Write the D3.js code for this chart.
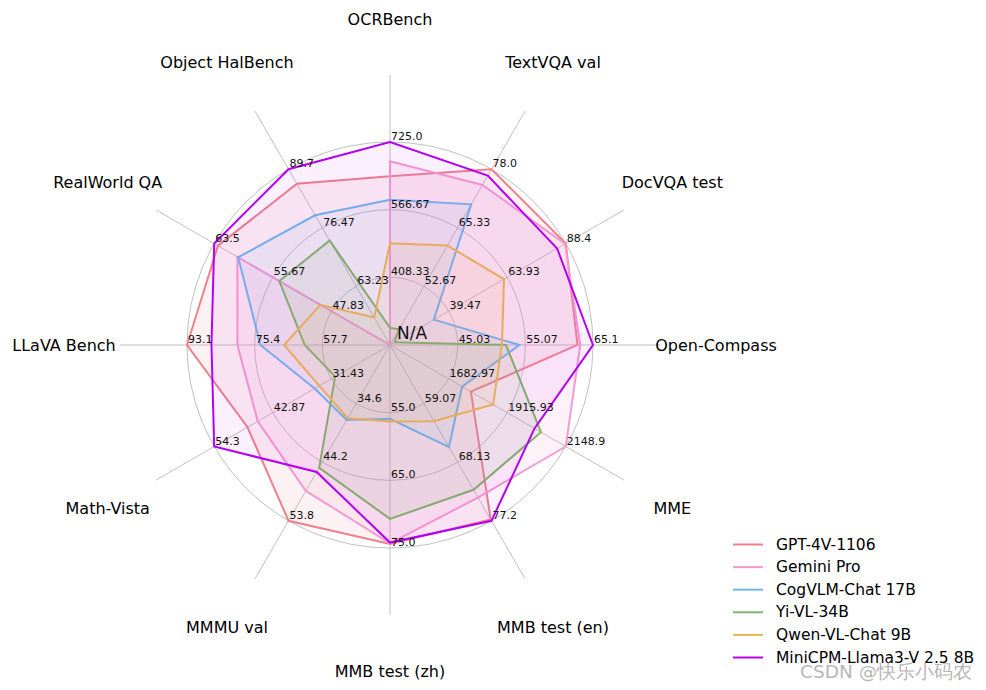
<!DOCTYPE html>
<html>
<head>
<meta charset="utf-8">
<script src="https://cdn.jsdelivr.net/npm/d3@7"></script>
<style>
  body { margin: 0; background: #fff; }
  text { font-family: "DejaVu Sans", sans-serif; }
</style>
</head>
<body>
<div id="chart"></div>
<script>
const width = 986;
const height = 690;

// Centre and radius of the radar
const cx = 390;
const cy = 345;
const radius = 203;

// Axes, counter-clockwise from the right
const categories = ['Open-Compass', 'DocVQA test', 'TextVQA val', 'OCRBench', 'Object HalBench', 'RealWorld QA',
    'LLaVA Bench', 'Math-Vista', 'MMMU val', 'MMB test (zh)', 'MMB test (en)', 'MME'];
const axisMin = [35, 15, 40, 250, 50, 40, 40, 20, 25, 45, 50, 1450];
const axisMax = [65.1, 88.4, 78.0, 725.0, 89.7, 63.5, 93.1, 54.3, 53.8, 75.0, 77.2, 2148.9];

// Ring labels (1/3, 2/3, outer)
const tickLabels = [
    ['45.03', '55.07', '65.1'],
    ['39.47', '63.93', '88.4'],
    ['52.67', '65.33', '78.0'],
    ['408.33', '566.67', '725.0'],
    ['63.23', '76.47', '89.7'],
    ['47.83', '55.67', '63.5'],
    ['57.7', '75.4', '93.1'],
    ['31.43', '42.87', '54.3'],
    ['34.6', '44.2', '53.8'],
    ['55.0', '65.0', '75.0'],
    ['59.07', '68.13', '77.2'],
    ['1682.97', '1915.93', '2148.9']
];

// Models
const models = ['GPT-4V-1106', 'Gemini Pro', 'CogVLM-Chat 17B', 'Yi-VL-34B', 'Qwen-VL-Chat 9B', 'MiniCPM-Llama3-V 2.5 8B'];
const gpt4v = [62.8, 88.4, 78.0, 645, 86.4, 63.0, 93.1, 47.8, 53.8, 74.4, 77.0, 1771.5];
const geminiPro = [63.2, 88.1, 74.6, 680, null, 60.4, 79.9, 45.8, 48.9, 74.3, 73.6, 2148.9];
const cogvlm = [54.2, 33.3, 70.4, 590, 79.3, 60.3, 73.9, 34.7, 37.3, 55.9, 65.8, 1736.6];
const yivl = [52.2, 16.9, 43.4, 290, 73.6, 54.8, 62.3, 30.7, 45.1, 70.7, 72.4, 2050.2];
const qwenvl = [51.6, 62.6, 61.5, 488, 56.2, 49.3, 67.7, 33.8, 37.0, 56.3, 61.8, 1860.0];
const minicpm = [65.1, 84.8, 76.6, 725, 89.7, 63.5, 86.7, 54.3, 45.8, 74.2, 77.2, 2024.6];
const seriesValues = [gpt4v, geminiPro, cogvlm, yivl, qwenvl, minicpm];

const colors = d3.scaleOrdinal()
    .domain(models)
    .range(['#f0808c', '#f59ad2', '#72b6ee', '#80b46a', '#e9b654', '#b400f0']);
const fillAlpha = [0.1, 0.13, 0.1, 0.1, 0.1, 0.06];

// One radial scale per axis
const scales = categories.map((c, i) => d3.scaleLinear().domain([axisMin[i], axisMax[i]]).range([0, radius]));
const angle = d3.scaleLinear().domain([0, categories.length]).range([0, 2 * Math.PI]);
const px = (i, r) => cx + r * Math.cos(angle(i));
const py = (i, r) => cy - r * Math.sin(angle(i));

const svg = d3.select('#chart')
    .append('svg')
    .attr('width', width)
    .attr('height', height);

// Grid rings
svg.selectAll('.ring')
    .data([1, 2, 3])
    .enter().append('circle')
    .attr('cx', cx)
    .attr('cy', cy)
    .attr('r', k => radius * k / 3)
    .attr('fill', 'none')
    .attr('stroke', '#b0b0b0')
    .attr('stroke-width', 0.8);

// Spokes
svg.selectAll('.spoke')
    .data(categories)
    .enter().append('line')
    .attr('x1', cx)
    .attr('y1', cy)
    .attr('x2', (d, i) => px(i, 270))
    .attr('y2', (d, i) => py(i, 270))
    .attr('stroke', '#b0b0b0')
    .attr('stroke-width', 0.8);

// Polygons
const line = d3.line()
    .x(d => px(d.i, d.r))
    .y(d => py(d.i, d.r))
    .curve(d3.curveLinearClosed);

const polys = svg.selectAll('.model')
    .data(models)
    .enter().append('g')
    .attr('class', 'model');

polys.append('path')
    .attr('d', (m, k) => line(seriesValues[k].map((v, i) => ({ i: i, r: v == null ? 0 : scales[i](v) }))))
    .attr('fill', m => colors(m))
    .attr('fill-opacity', (m, k) => fillAlpha[k])
    .attr('stroke', m => colors(m))
    .attr('stroke-width', 2)
    .attr('stroke-linejoin', 'miter');

// Tick labels on each axis
categories.forEach((c, i) => {
    svg.selectAll('.tick' + i)
        .data(tickLabels[i])
        .enter().append('text')
        .attr('x', (d, k) => px(i, radius * (k + 1) / 3) + 1)
        .attr('y', (d, k) => py(i, radius * (k + 1) / 3) - 2)
        .attr('font-size', 11)
        .attr('fill', '#111')
        .text(d => d);
});

// Missing value marker
seriesValues.forEach(vals => {
    vals.forEach((v, i) => {
        if (v == null) {
            svg.append('text')
                .attr('x', cx + 7)
                .attr('y', cy - 6)
                .attr('font-size', 17)
                .attr('fill', '#111')
                .text('N/A');
        }
    });
});

// Axis names
svg.selectAll('.axis-label')
    .data(categories)
    .enter().append('text')
    .attr('x', (d, i) => px(i, 326))
    .attr('y', (d, i) => py(i, 326))
    .attr('text-anchor', 'middle')
    .attr('dominant-baseline', 'central')
    .attr('font-size', 16)
    .attr('fill', '#000')
    .text(d => d);

// Legend
const legend = svg.selectAll('.legend')
    .data(models)
    .enter().append('g')
    .attr('transform', (d, i) => `translate(733, ${544.5 + i * 22.6})`);

legend.append('line')
    .attr('x1', 0)
    .attr('x2', 30)
    .attr('stroke', d => colors(d))
    .attr('stroke-width', 2);

legend.append('text')
    .attr('x', 43)
    .attr('dominant-baseline', 'central')
    .attr('font-size', 15.5)
    .attr('fill', '#000')
    .text(d => d);

// Watermark
svg.append('text')
    .attr('x', 800)
    .attr('y', 678)
    .attr('font-family', '"Noto Sans CJK SC", sans-serif')
    .attr('font-size', 18.5)
    .attr('fill', '#a8a8a8')
    .attr('fill-opacity', 0.85)
    .text('CSDN @快乐小码农');
</script>
</body>
</html>
